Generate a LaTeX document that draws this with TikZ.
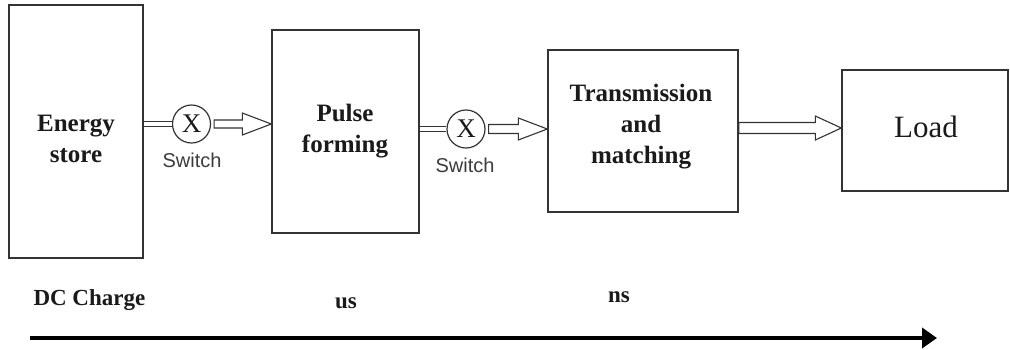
\documentclass[tikz,border=0pt]{standalone}
\usepackage{fontspec}
\setmainfont{Liberation Serif}
\newfontfamily\labelsans{Liberation Sans}
\usetikzlibrary{arrows.meta,calc}

\definecolor{edge}{HTML}{333333}
\definecolor{ink}{HTML}{1A1A1A}
\definecolor{swgray}{HTML}{3C3C3C}

% hollow block arrow from #1 to #2 (same height); #3 shaft half-width, #4 head half-width, #5 head length
\newcommand\hollowarrow[5]{%
  \draw[blockarrow]
    ($(#1)+(0,-#3)$) -- ($(#2)+(-#5,-#3)$) -- ($(#2)+(-#5,-#4)$) -- (#2)
    -- ($(#2)+(-#5,#4)$) -- ($(#2)+(-#5,#3)$) -- ($(#1)+(0,#3)$) -- cycle;}

\begin{document}
\begin{tikzpicture}[x=1pt,y=-1pt,
  stage/.style={draw=edge, line width=1.4pt, fill=white, inner sep=0pt},
  stagetext/.style={text=ink, font=\fontsize{25}{31}\selectfont\bfseries, align=center},
  switchnode/.style={draw=edge, circle, line width=1.2pt, minimum size=38pt, inner sep=0pt,
    text=ink, font=\fontsize{27}{27}\selectfont},
  switchlabel/.style={text=swgray, font=\labelsans\fontsize{20}{20}\selectfont},
  link/.style={draw=edge, line width=1.2pt, double=white, double distance=4.5pt},
  blockarrow/.style={draw=edge, line width=1.1pt, fill=white, line join=miter},
  scaletext/.style={text=ink, font=\fontsize{23}{23}\selectfont\bfseries},
  timeline/.style={line width=4.5pt, draw=black, -{Triangle[length=15pt,width=20pt]}}
]
\useasboundingbox (0,0) rectangle (1010,349);

% stages
\node[stage, minimum width=134pt, minimum height=253pt] (store) at (76,131.5) {};
\node[stage, minimum width=147pt, minimum height=203pt] (pulse) at (345.5,131.5) {};
\node[stage, minimum width=190pt, minimum height=162pt] (trans) at (643,131) {};
\node[stage, minimum width=166pt, minimum height=121pt] (load) at (925,130.5) {};

\node[stagetext] (storetxt) at (76,139) {Energy\\store};
\node[stagetext] (pulsetxt) at (345,131) {Pulse\\forming};
\node[stagetext] (transtxt) at (641,127) {Transmission\\and\\matching};
\node[text=ink, font=\fontsize{31}{31}\selectfont] (loadtxt) at (926,127) {Load};

% switches
\node[switchnode] (sw1) at (191.5,124) {X};
\node[switchnode] (sw2) at (466,129) {X};
\node[switchlabel] (sw1lbl) at (192,160) {Switch};
\node[switchlabel] (sw2lbl) at (465,165) {Switch};

% connections
\draw[link] (store.east |- sw1) -- (sw1.west);
\draw[link] (pulse.east |- sw2) -- (sw2.west);

\coordinate (a1s) at ($(sw1.east)+(3,0)$);
\coordinate (a1e) at (pulse.west |- sw1);
\coordinate (a2s) at ($(sw2.east)+(3,0)$);
\coordinate (a2e) at (trans.west |- sw2);
\coordinate (a3s) at (trans.east |- 0,128);
\coordinate (a3e) at (load.west |- 0,128);

\hollowarrow{a1s}{a1e}{4}{11}{29}
\hollowarrow{a2s}{a2e}{4.5}{11}{29}
\hollowarrow{a3s}{a3e}{5.5}{12}{26}

% time scale
\node[scaletext, anchor=west] (dc) at (30,300) {DC Charge};
\node[scaletext] (us) at (346,303) {us};
\node[scaletext] (ns) at (619,297) {ns};

\coordinate (tstart) at (30,338);
\coordinate (tend) at (937,338);
\draw[timeline] (tstart) -- (tend);
\end{tikzpicture}
\end{document}
